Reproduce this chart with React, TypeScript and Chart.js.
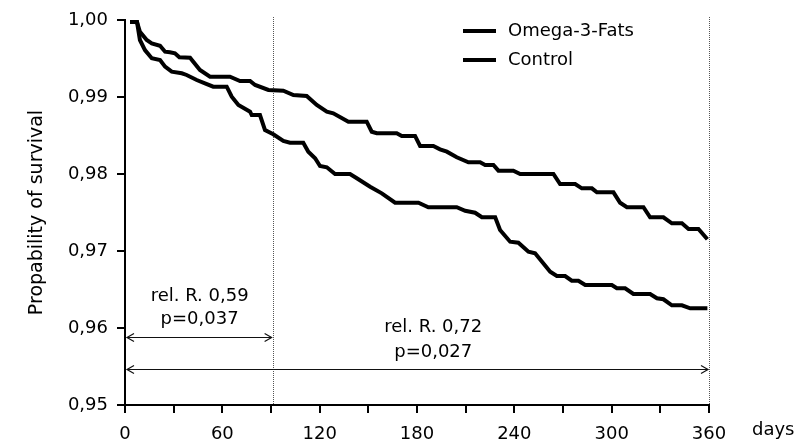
import { useEffect, useRef } from "react";
import { Chart, registerables } from "chart.js";

Chart.register(...registerables);

const FONT = "'DejaVu Sans', sans-serif";

// Kaplan-Meier curves (days, probability of survival)
const DAYS_OMEGA = [3.1, 7.4, 9.2, 13.4, 16.5, 21.6, 24.7, 27.7, 30.8, 33.5, 40.1, 46.2, 52.4, 64.7, 70.9, 77.1, 80.2, 88.4, 97.6, 103.8, 112.0, 118.2, 124.4, 128.4, 137.7, 149.0, 152.1, 155.2, 167.5, 170.6, 178.8, 181.9, 190.1, 194.2, 198.4, 204.5, 211.7, 218.9, 222.0, 227.1, 230.2, 239.4, 243.6, 264.1, 268.2, 277.5, 281.6, 287.8, 290.9, 301.1, 305.2, 309.4, 319.6, 323.7, 331.9, 337.1, 343.3, 347.4, 353.5, 359.0];
const SURV_OMEGA = [0.99974, 0.99974, 0.99848, 0.9974, 0.99697, 0.99666, 0.99588, 0.99581, 0.99568, 0.99516, 0.9951, 0.99351, 0.99264, 0.99264, 0.99208, 0.99208, 0.99156, 0.99091, 0.99082, 0.99026, 0.99013, 0.98896, 0.98809, 0.98788, 0.98679, 0.98679, 0.98549, 0.98529, 0.98529, 0.98494, 0.98494, 0.98364, 0.98364, 0.98321, 0.9829, 0.98217, 0.98152, 0.98152, 0.98117, 0.98117, 0.98043, 0.98043, 0.98, 0.98, 0.9787, 0.9787, 0.97814, 0.97814, 0.97762, 0.97762, 0.97627, 0.97568, 0.97568, 0.97438, 0.97438, 0.9736, 0.9736, 0.97286, 0.97286, 0.97152];

const DAYS_CONTROL = [3.1, 7.4, 9.2, 12.3, 16.5, 21.6, 24.7, 28.8, 35.0, 38.0, 44.2, 49.3, 54.4, 62.7, 65.8, 69.9, 77.1, 78.1, 83.2, 86.3, 91.4, 97.6, 101.7, 109.9, 113.0, 117.2, 120.2, 124.4, 129.5, 138.7, 142.9, 151.1, 158.3, 166.5, 180.9, 187.0, 204.5, 209.7, 215.8, 220.0, 228.2, 231.2, 237.4, 242.5, 248.7, 252.8, 262.1, 266.2, 271.3, 275.4, 279.5, 283.7, 300.1, 303.2, 308.3, 313.4, 323.7, 327.9, 331.9, 337.1, 343.3, 348.4, 359.0];
const SURV_CONTROL = [0.99974, 0.99974, 0.9974, 0.9961, 0.99503, 0.99481, 0.99394, 0.99329, 0.99308, 0.99286, 0.99221, 0.99178, 0.99134, 0.99134, 0.99004, 0.98896, 0.98809, 0.98766, 0.98766, 0.98571, 0.98516, 0.98429, 0.98406, 0.98406, 0.9829, 0.98204, 0.98104, 0.98087, 0.98, 0.98, 0.97944, 0.97835, 0.97749, 0.97627, 0.97627, 0.97568, 0.97568, 0.97523, 0.97497, 0.97438, 0.97438, 0.97273, 0.97121, 0.97108, 0.96991, 0.9697, 0.96731, 0.96675, 0.96675, 0.96614, 0.96614, 0.96558, 0.96558, 0.96516, 0.96516, 0.96442, 0.96442, 0.96386, 0.96373, 0.96295, 0.96295, 0.96256, 0.96256];

const SERIES_NAMES = ["Omega-3-Fats", "Control"];

// Axis settings
const X_MIN = 0;
const X_MAX = 360;
const X_STEP = 30;
const X_LABEL_EVERY = 60;
const Y_MIN = 0.95;
const Y_MAX = 1.0;
const Y_STEP = 0.01;
const Y_TITLE = "Propability of survival";
const X_UNIT = "days";

// Annotations (data coordinates)
const CUTOFF_DAYS = [91, 360];
const ARROWS = [
  { from: 0, to: 91, y: 0.95887 },
  { from: 0, to: 360, y: 0.95468 },
];
const NOTES = [
  { x: 46, y: 0.96416, text: "rel. R. 0,59" },
  { x: 46, y: 0.96117, text: "p=0,037" },
  { x: 190, y: 0.96013, text: "rel. R. 0,72" },
  { x: 190, y: 0.95679, text: "p=0,027" },
];

const toPoints = (xs: number[], ys: number[]) => xs.map((x, i) => ({ x, y: ys[i] }));

const annotPlugin = {
  id: "annot",
  beforeDatasetsDraw(chart: any) {
    const { ctx, chartArea, scales } = chart;
    ctx.save();
    ctx.strokeStyle = "#555";
    ctx.lineWidth = 1;
    ctx.setLineDash([1, 1]);
    CUTOFF_DAYS.forEach((d) => {
      const x = Math.round(scales.x.getPixelForValue(d)) + 0.5;
      ctx.beginPath();
      ctx.moveTo(x, chartArea.top - 3);
      ctx.lineTo(x, chartArea.bottom);
      ctx.stroke();
    });
    ctx.restore();
  },
  afterDraw(chart: any) {
    const { ctx, chartArea, scales } = chart;
    const sx = scales.x;
    const sy = scales.y;
    ctx.save();
    // arrows
    ctx.strokeStyle = "#111";
    ctx.lineWidth = 1.2;
    ctx.setLineDash([]);
    ARROWS.forEach((a) => {
      const x1 = sx.getPixelForValue(a.from) + 2;
      const x2 = sx.getPixelForValue(a.to) - 1;
      const y = Math.round(sy.getPixelForValue(a.y)) + 0.5;
      ctx.beginPath();
      ctx.moveTo(x1, y);
      ctx.lineTo(x2, y);
      ctx.stroke();
      ctx.beginPath();
      ctx.moveTo(x1 + 7, y - 4);
      ctx.lineTo(x1, y);
      ctx.lineTo(x1 + 7, y + 4);
      ctx.moveTo(x2 - 7, y - 4);
      ctx.lineTo(x2, y);
      ctx.lineTo(x2 - 7, y + 4);
      ctx.stroke();
    });
    // notes
    ctx.fillStyle = "#000";
    ctx.font = `18px ${FONT}`;
    ctx.textAlign = "center";
    ctx.textBaseline = "middle";
    NOTES.forEach((n) => {
      ctx.fillText(n.text, sx.getPixelForValue(n.x), sy.getPixelForValue(n.y));
    });
    // legend
    chart.data.datasets.forEach((ds: any, i: number) => {
      const y = 31 + i * 29;
      ctx.strokeStyle = ds.borderColor;
      ctx.lineWidth = 4;
      ctx.beginPath();
      ctx.moveTo(463, y);
      ctx.lineTo(496, y);
      ctx.stroke();
      ctx.textAlign = "left";
      ctx.fillText(ds.label, 508, y);
    });
    // x unit
    ctx.textAlign = "left";
    ctx.fillText(X_UNIT, chartArea.right + 43, chartArea.bottom + 25);
    // y title
    ctx.font = `19px ${FONT}`;
    ctx.translate(37, (chartArea.top + chartArea.bottom) / 2);
    ctx.rotate(-Math.PI / 2);
    ctx.textAlign = "center";
    ctx.fillText(Y_TITLE, 0, 0);
    ctx.restore();
  },
};

export default function App() {
  const ref = useRef<HTMLCanvasElement | null>(null);
  useEffect(() => {
    if (!ref.current) return;
    const chart = new Chart(ref.current, {
      type: "line",
      data: {
        datasets: [
          {
            label: SERIES_NAMES[0],
            data: toPoints(DAYS_OMEGA, SURV_OMEGA),
            borderColor: "#000",
            borderWidth: 4,
            pointRadius: 0,
            tension: 0,
            fill: false,
          },
          {
            label: SERIES_NAMES[1],
            data: toPoints(DAYS_CONTROL, SURV_CONTROL),
            borderColor: "#000",
            borderWidth: 4,
            pointRadius: 0,
            tension: 0,
            fill: false,
          },
        ],
      },
      options: {
        animation: false,
        responsive: false,
        layout: { padding: { top: 20, right: 96, left: 0, bottom: 0 } },
        plugins: { legend: { display: false }, tooltip: { enabled: false } },
        scales: {
          x: {
            type: "linear",
            min: X_MIN,
            max: X_MAX,
            afterFit: (s: any) => {
              s.height = 39;
            },
            ticks: {
              stepSize: X_STEP,
              autoSkip: false,
              maxRotation: 0,
              padding: 11,
              color: "#000",
              font: { family: FONT, size: 18 },
              callback: (v: any) => (Math.round(v) % X_LABEL_EVERY === 0 ? String(Math.round(v)) : ""),
            },
            grid: { drawOnChartArea: false, tickLength: 8, color: "#000", lineWidth: 2 },
            border: { color: "#000", width: 2 },
          },
          y: {
            min: Y_MIN,
            max: Y_MAX,
            afterFit: (s: any) => {
              s.width = 125;
            },
            ticks: {
              stepSize: Y_STEP,
              padding: 9,
              color: "#000",
              font: { family: FONT, size: 18 },
              callback: (v: any) => Number(v).toFixed(2).replace(".", ","),
            },
            grid: { drawOnChartArea: false, tickLength: 8, color: "#000", lineWidth: 2 },
            border: { color: "#000", width: 2 },
          },
        },
      },
      plugins: [annotPlugin],
    });
    return () => chart.destroy();
  }, []);
  return (
    <div style={{ position: "absolute", left: 0, top: 0, width: 805, height: 444, background: "#fff" }}>
      <canvas ref={ref} width={805} height={444} />
    </div>
  );
}
